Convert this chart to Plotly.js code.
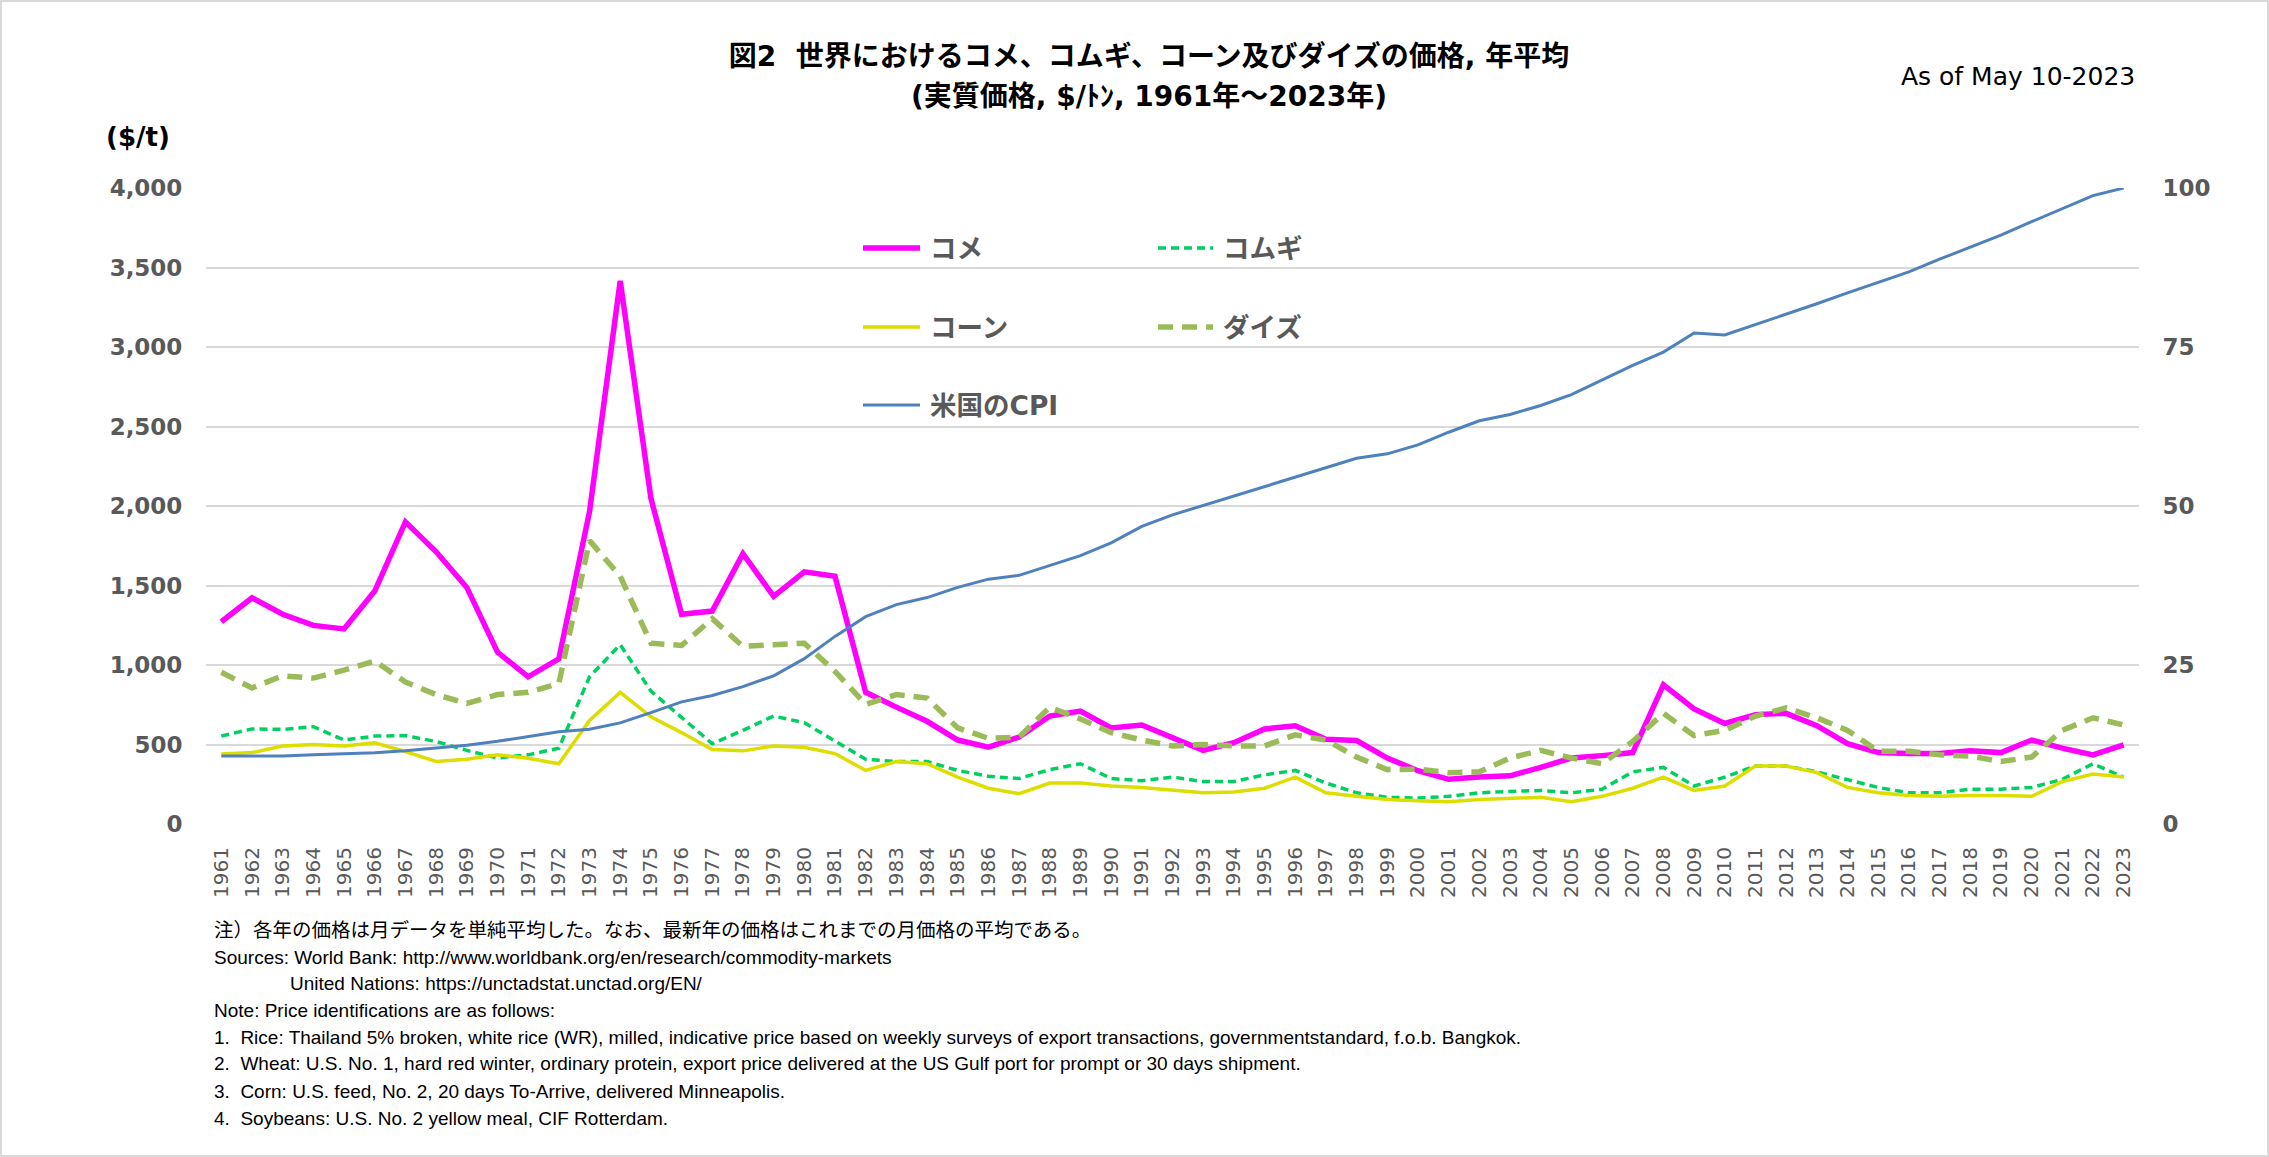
<!DOCTYPE html>
<html>
<head>
<meta charset="utf-8">
<script src="https://cdn.plot.ly/plotly-3.0.1.min.js"></script>
<style>
  html, body { margin: 0; padding: 0; background: #fff; overflow: hidden; }
  #wrap { position: relative; width: 2269px; height: 1157px; }
  #chart { position: absolute; left: 0; top: 0; width: 2269px; height: 1157px; }
  #frame { position: absolute; left: 0; top: 0; width: 2269px; height: 1157px;
           box-sizing: border-box; border: 2px solid #D9D9D9; pointer-events: none; z-index: 10; }
</style>
</head>
<body>
<div id="wrap">
  <div id="chart"></div>
  <div id="frame"></div>
</div>
<script>
// Annual average real prices of rice, wheat, corn and soybeans ($/t), with US CPI (2023 = 100)
const years = [
  '1961','1962','1963','1964','1965','1966','1967','1968','1969','1970',
  '1971','1972','1973','1974','1975','1976','1977','1978','1979','1980',
  '1981','1982','1983','1984','1985','1986','1987','1988','1989','1990',
  '1991','1992','1993','1994','1995','1996','1997','1998','1999','2000',
  '2001','2002','2003','2004','2005','2006','2007','2008','2009','2010',
  '2011','2012','2013','2014','2015','2016','2017','2018','2019','2020',
  '2021','2022','2023'
];

const rice = [
  1272,1423,1319,1249,1227,1465,1900,1712,1488,1081,
  926,1039,1965,3416,2049,1319,1339,1700,1432,1586,
  1558,828,735,646,528,483,547,679,710,604,
  623,547,463,511,598,618,533,525,415,335,
  281,295,303,356,415,430,449,876,724,632,
  688,696,618,505,449,443,443,460,449,528,
  477,435,497
];

const wheat = [
  553,598,595,612,528,553,556,519,463,415,
  435,477,926,1128,836,674,505,589,679,637,
  519,407,393,393,337,300,286,342,379,286,
  272,295,267,267,309,337,258,196,168,163,
  174,196,205,211,196,219,328,356,239,295,
  365,365,328,281,230,196,196,219,219,230,
  281,379,295
];

const corn = [
  441,449,491,500,491,511,455,393,407,435,
  413,379,651,828,674,575,469,460,491,483,
  443,337,393,379,295,225,191,258,258,239,
  230,211,196,202,225,295,196,174,154,146,
  140,154,163,168,140,174,225,295,211,239,
  365,365,323,230,196,180,174,180,180,174,
  267,314,295
];

const soy = [
  954,856,932,918,968,1025,893,814,758,814,
  828,884,1782,1558,1137,1123,1291,1117,1128,1137,
  960,752,814,792,604,539,547,735,660,575,
  528,491,500,491,491,561,528,421,342,345,
  323,328,415,463,415,379,519,696,556,589,
  679,730,668,589,458,458,435,427,393,421,
  589,668,623
];

const cpi = [
  10.7,10.7,10.7,10.9,11.0,11.2,11.5,11.9,12.4,13.0,
  13.8,14.5,14.9,15.9,17.5,19.2,20.2,21.6,23.3,26.0,
  29.5,32.6,34.5,35.6,37.2,38.5,39.1,40.7,42.2,44.2,
  46.8,48.6,50.1,51.6,53.1,54.5,56.1,57.5,58.2,59.6,
  61.6,63.4,64.4,65.8,67.5,69.8,72.1,74.2,77.2,76.9,
  78.5,80.1,81.8,83.5,85.2,86.8,88.8,90.7,92.6,94.7,
  96.8,98.8,100.0
];

const seriesNames = ['コメ', 'コムギ', 'コーン', 'ダイズ', '米国のCPI'];
const priceTicks = [0, 500, 1000, 1500, 2000, 2500, 3000, 3500, 4000];
const cpiTicks = [0, 25, 50, 75, 100];

const titleLine1 = '図2\u00a0\u00a0世界におけるコメ、コムギ、コーン及びダイズの価格, 年平均';
const titleLine2 = '(実質価格, $/ﾄﾝ, 1961年～2023年)';
const asOfText = 'As of May 10-2023';
const unitText = '($/t)';
const noteLines = [
  '注）各年の価格は月データを単純平均した。なお、最新年の価格はこれまでの月価格の平均である。',
  'Sources: World Bank: http://www.worldbank.org/en/research/commodity-markets',
  'United Nations: https://unctadstat.unctad.org/EN/',
  'Note: Price identifications are as follows:',
  '1.\u00a0 Rice: Thailand 5% broken, white rice (WR), milled, indicative price based on weekly surveys of export transactions, governmentstandard, f.o.b. Bangkok.',
  '2.\u00a0 Wheat: U.S. No. 1, hard red winter, ordinary protein, export price delivered at the US Gulf port for prompt or 30 days shipment.',
  '3.\u00a0 Corn: U.S. feed, No. 2, 20 days To-Arrive, delivered Minneapolis.',
  '4.\u00a0 Soybeans: U.S. No. 2 yellow meal, CIF Rotterdam.'
];

// ---- line styles ----
const styles = [
  { color: '#FF00FF', width: 5.5, dash: 'solid' },
  { color: '#00D060', width: 3.5, dash: '8px,5px' },
  { color: '#DDDD00', width: 3.5, dash: 'solid' },
  { color: '#9BBB59', width: 5.5, dash: '15px,9px' },
  { color: '#4F81BD', width: 3,   dash: 'solid' }
];

const seriesValues = [rice, wheat, corn, soy, cpi];
const traces = seriesValues.map((vals, i) => ({
  type: 'scatter',
  mode: 'lines',
  name: seriesNames[i],
  x: years,
  y: vals,
  yaxis: i === 4 ? 'y2' : 'y',
  line: { color: styles[i].color, width: styles[i].width, dash: styles[i].dash },
  hoverinfo: 'skip',
  showlegend: false
}));

// ---- plot-area geometry (pixels) ----
const W = 2269, H = 1157;
const PL = 206, PR = 2139, PT = 188, PB = 824;
const px = p => (p - PL) / (PR - PL);
const py = p => (PB - p) / (PB - PT);

const GRAY = '#595959';
const tickFont = { family: 'DejaVu Sans', size: 23, color: GRAY, weight: 'bold' };

// ---- hand-placed two-column legend ----
const legendCols = [863, 1158];
const legendRows = [248, 327, 405];
const legendSlots = [[0, 0], [1, 0], [0, 1], [1, 1], [0, 2]];
const legendLen = [57, 55];
const shapes = [];
const annotations = [];
legendSlots.forEach((slot, i) => {
  const x0 = legendCols[slot[0]];
  const yy = legendRows[slot[1]];
  shapes.push({
    type: 'line', xref: 'paper', yref: 'paper', layer: 'above',
    x0: px(x0), x1: px(x0 + legendLen[slot[0]]), y0: py(yy), y1: py(yy),
    line: { color: styles[i].color, width: styles[i].width, dash: styles[i].dash }
  });
  annotations.push({
    xref: 'paper', yref: 'paper', x: px(x0 + legendLen[slot[0]] + 8), y: py(yy),
    xanchor: 'left', yanchor: 'middle', showarrow: false,
    text: '<b>' + seriesNames[i] + '</b>',
    font: { family: 'DejaVu Sans, Noto Sans CJK JP', size: 26.5, color: GRAY }
  });
});

// second title line
annotations.push({
  xref: 'paper', yref: 'paper', x: px(1149), y: py(97),
  xanchor: 'center', yanchor: 'middle', showarrow: false,
  text: '<b>' + titleLine2 + '</b>',
  font: { family: 'DejaVu Sans, Noto Sans CJK JP', size: 28, color: '#000' }
});

// date stamp
annotations.push({
  xref: 'paper', yref: 'paper', x: px(2137), y: py(77),
  xanchor: 'right', yanchor: 'middle', showarrow: false,
  text: asOfText,
  font: { family: 'DejaVu Sans', size: 25, color: '#000' }
});

// unit label above the price axis
annotations.push({
  xref: 'paper', yref: 'paper', x: px(138), y: py(137),
  xanchor: 'center', yanchor: 'middle', showarrow: false,
  text: '<b>' + unitText + '</b>',
  font: { family: 'DejaVu Sans', size: 26, color: '#000' }
});

// notes under the chart
const noteY = [930, 957, 983, 1010, 1037, 1063, 1091, 1118];
noteLines.forEach((t, i) => {
  annotations.push({
    xref: 'paper', yref: 'paper', x: px(i === 2 ? 288 : 212), y: py(noteY[i]),
    xanchor: 'left', yanchor: 'middle', showarrow: false,
    text: t,
    font: { family: 'Liberation Sans, Noto Sans CJK JP', size: i === 0 ? 19.5 : 19, color: '#000' }
  });
});

const layout = {
  width: W, height: H,
  margin: { l: PL, r: W - PR, t: PT, b: H - PB, pad: 0 },
  paper_bgcolor: 'rgba(0,0,0,0)',
  plot_bgcolor: '#fff',
  showlegend: false,
  title: {
    text: '<b>' + titleLine1 + '</b>',
    font: { family: 'DejaVu Sans, Noto Sans CJK JP', size: 28, color: '#000' },
    xref: 'container', x: 1149 / W, xanchor: 'center',
    yref: 'container', y: 1 - 56 / H, yanchor: 'middle'
  },
  xaxis: {
    type: 'category', categoryorder: 'array', categoryarray: years,
    range: [-0.5, years.length - 0.5],
    tickangle: -90,
    tickfont: { family: 'DejaVu Sans', size: 20, color: GRAY },
    showgrid: false, zeroline: false, showline: false,
    ticks: 'outside', ticklen: 14, tickcolor: 'rgba(0,0,0,0)',
    fixedrange: true
  },
  yaxis: {
    range: [0, 4000], tickmode: 'array', tickvals: priceTicks,
    tickformat: ',d',
    tickfont: tickFont,
    gridcolor: '#D9D9D9', gridwidth: 2,
    zeroline: false, showline: false,
    ticks: 'outside', ticklen: 18, tickcolor: 'rgba(0,0,0,0)',
    fixedrange: true
  },
  yaxis2: {
    overlaying: 'y', side: 'right',
    range: [0, 100], tickmode: 'array', tickvals: cpiTicks,
    tickfont: tickFont,
    showgrid: false, zeroline: false, showline: false,
    ticks: 'outside', ticklen: 18, tickcolor: 'rgba(0,0,0,0)',
    fixedrange: true
  },
  shapes: shapes,
  annotations: annotations
};

Plotly.newPlot('chart', traces, layout, { staticPlot: true, displayModeBar: false });
</script>
</body>
</html>
